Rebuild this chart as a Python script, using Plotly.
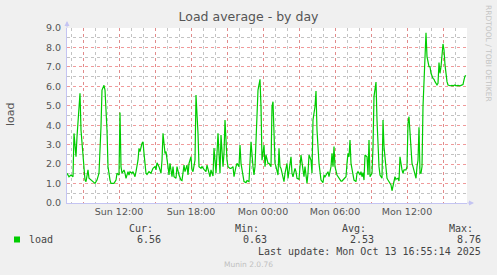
import pandas as pd
import plotly.graph_objects as go

# ---------------- data ----------------
window_start = "2025-10-12 07:40"
window_end = "2025-10-13 17:00"

minutes_since_start = [
    0, 10, 20, 30, 35, 45, 50, 60, 65, 70, 80, 90, 95, 100, 105, 110, 120, 130, 140, 150,
    160, 170, 175, 185, 190, 200, 205, 215, 220, 235, 245, 250, 260, 265, 270, 275, 285, 290, 295, 305,
    310, 315, 325, 330, 340, 345, 355, 360, 365, 375, 380, 385, 395, 400, 410, 420, 425, 430, 440, 445,
    450, 460, 470, 475, 480, 490, 495, 500, 505, 510, 515, 525, 530, 535, 545, 550, 555, 560, 570, 575,
    585, 590, 600, 605, 610, 620, 625, 630, 640, 645, 655, 660, 670, 675, 685, 695, 700, 710, 715, 720,
    730, 735, 740, 745, 755, 760, 765, 770, 775, 780, 785, 790, 800, 805, 815, 820, 830, 835, 845, 850,
    860, 865, 870, 880, 885, 895, 900, 910, 915, 920, 930, 935, 940, 950, 955, 965, 970, 975, 985, 990,
    995, 1005, 1010, 1020, 1025, 1030, 1035, 1040, 1045, 1055, 1060, 1065, 1070, 1080, 1085, 1090, 1100, 1105, 1110, 1120,
    1125, 1130, 1140, 1145, 1150, 1160, 1165, 1170, 1180, 1185, 1190, 1200, 1205, 1210, 1220, 1225, 1230, 1240, 1245, 1250,
    1260, 1265, 1270, 1280, 1285, 1290, 1300, 1305, 1310, 1320, 1325, 1330, 1335, 1340, 1350, 1355, 1360, 1370, 1375, 1385,
    1395, 1400, 1405, 1410, 1415, 1420, 1430, 1435, 1445, 1450, 1455, 1465, 1470, 1475, 1480, 1485, 1490, 1500, 1505, 1510,
    1515, 1525, 1530, 1535, 1545, 1550, 1560, 1565, 1575, 1580, 1585, 1595, 1600, 1605, 1615, 1620, 1625, 1635, 1640, 1645,
    1655, 1660, 1665, 1675, 1680, 1685, 1695, 1700, 1705, 1710, 1715, 1725, 1730, 1735, 1745, 1750, 1755, 1760, 1765, 1770,
    1775, 1780, 1790, 1795, 1800, 1810, 1815, 1820, 1830, 1835, 1840, 1850, 1855, 1860, 1865, 1870, 1880, 1885, 1890, 1895,
    1900, 1905, 1915, 1925, 1930, 1940, 1945, 1955, 1965, 1970, 1980, 1985, 1990, 1995,
]

load_values = [
    1.53, 1.35, 1.44, 1.35, 3.58, 2.38, 3.41, 4.60, 5.64, 3.75, 2.20, 1.18, 1.10, 1.53, 1.70, 1.27, 1.18, 1.05, 1.01, 1.18,
    1.53, 3.93, 5.81, 6.05, 5.81, 3.75, 1.87, 1.18, 1.01, 1.01, 1.18, 1.53, 1.44, 4.65, 1.87, 1.53, 1.70, 1.53, 1.27, 1.61,
    1.44, 1.61, 1.53, 1.61, 1.35, 1.61, 2.20, 2.81, 2.64, 3.07, 3.15, 2.55, 1.53, 1.47, 1.61, 1.53, 1.73, 1.78, 1.87, 1.70,
    2.07, 1.87, 1.53, 2.20, 3.58, 2.55, 2.64, 2.04, 1.87, 1.44, 2.04, 1.35, 1.87, 1.35, 1.27, 1.87, 1.53, 1.44, 1.18, 1.15,
    1.95, 1.61, 1.95, 1.44, 2.04, 2.38, 1.70, 1.61, 2.20, 5.55, 3.58, 1.87, 1.78, 1.87, 1.73, 1.61, 1.95, 1.53, 1.35, 1.70,
    1.39, 2.83, 2.20, 1.53, 3.58, 2.55, 1.53, 3.50, 2.90, 1.87, 2.55, 4.27, 2.20, 1.87, 1.78, 1.78, 1.87, 1.35, 1.87, 2.04,
    1.87, 2.98, 2.04, 1.53, 1.10, 1.05, 1.15, 1.10, 2.38, 3.15, 1.87, 1.44, 1.87, 4.27, 5.81, 6.36, 4.96, 2.20, 2.98, 1.87,
    2.47, 2.04, 2.04, 1.87, 4.96, 5.21, 3.75, 2.04, 1.87, 1.44, 2.81, 1.87, 1.78, 1.18, 1.10, 1.53, 2.04, 1.27, 1.61, 2.38,
    1.53, 1.35, 1.78, 1.61, 1.27, 1.22, 1.87, 2.47, 1.70, 1.35, 1.87, 1.01, 1.53, 2.47, 2.20, 1.53, 4.27, 4.96, 5.76, 3.75,
    2.04, 1.53, 1.18, 1.05, 1.44, 1.35, 1.53, 1.61, 1.35, 1.87, 2.55, 1.87, 2.90, 1.87, 1.44, 1.35, 1.27, 1.13, 1.13, 1.22,
    1.35, 2.04, 2.55, 2.38, 3.24, 2.04, 1.35, 1.18, 1.10, 1.53, 1.61, 1.44, 1.61, 1.35, 1.56, 1.18, 2.47, 2.38, 1.44, 3.24,
    1.35, 1.53, 2.90, 5.47, 6.22, 4.27, 1.87, 1.44, 1.27, 4.27, 2.90, 1.53, 1.27, 1.18, 1.01, 0.93, 0.63, 1.10, 1.35, 1.22,
    1.27, 1.13, 2.38, 1.70, 1.53, 1.70, 1.70, 1.87, 4.10, 4.44, 3.75, 2.04, 1.87, 1.70, 1.27, 1.87, 2.20, 3.90, 1.53, 1.53,
    1.87, 4.96, 7.70, 8.76, 7.53, 7.01, 7.01, 6.67, 6.41, 6.36, 6.24, 6.07, 6.15, 7.22, 6.67, 7.01, 8.18, 7.87, 7.10, 6.50,
    6.24, 6.07, 6.03, 6.05, 6.03, 6.07, 6.03, 6.05, 6.02, 6.05, 6.09, 6.33, 6.53, 6.56,
]

tick_times = [
    "2025-10-12 09:00", "2025-10-12 12:00", "2025-10-12 15:00", "2025-10-12 18:00",
    "2025-10-12 21:00", "2025-10-13 00:00", "2025-10-13 03:00", "2025-10-13 06:00",
    "2025-10-13 09:00", "2025-10-13 12:00", "2025-10-13 15:00",
]
tick_labels = ["", "Sun 12:00", "", "Sun 18:00", "", "Mon 00:00", "", "Mon 06:00", "", "Mon 12:00", ""]

series_name = "load"
stat_names = ["Cur:", "Min:", "Avg:", "Max:"]
stat_values = ["6.56", "0.63", "2.53", "8.76"]
last_update = "Last update: Mon Oct 13 16:55:14 2025"
version_text = "Munin 2.0.76"
side_text = "RRDTOOL / TOBI OETIKER"

# ---------------- figure ----------------
W, H = 497, 275
L, R, T, B = 67, 467, 28, 203  # plot area in pixels


def px(x):
    return (x - L) / (R - L)


def py(y):
    return (B - y) / (B - T)


times = pd.Timestamp(window_start) + pd.to_timedelta(minutes_since_start, unit="min")

fig = go.Figure()
fig.add_trace(go.Scatter(
    x=times, y=load_values, mode="lines",
    line=dict(color="#00cc00", width=1.2),
    showlegend=False, hoverinfo="skip",
))

grid_major = "rgba(235,120,120,0.75)"
grid_minor = "rgba(175,175,175,0.75)"
axis_col = "#c4c4f2"
txt_col = "#555555"

fig.update_layout(
    width=W, height=H,
    margin=dict(l=L, r=W - R, t=T, b=H - B, pad=0),
    paper_bgcolor="#f0f0f0",
    plot_bgcolor="#ffffff",
    font=dict(family="DejaVu Sans", size=9.5, color=txt_col),
    title=dict(text="Load average - by day", x=0.5, xanchor="center",
               y=1 - 17 / H, yanchor="middle", yref="container",
               font=dict(family="DejaVu Sans", size=12.5, color=txt_col)),
    xaxis=dict(
        type="date", range=[window_start, window_end],
        tickmode="array", tickvals=tick_times, ticktext=tick_labels,
        showgrid=True, gridcolor=grid_major, griddash="dot", gridwidth=1,
        minor=dict(dtick=3600000, tick0="2025-10-12 00:00", showgrid=True,
                   gridcolor=grid_minor, griddash="dot", gridwidth=1),
        showline=True, linecolor=axis_col, linewidth=1,
        ticks="", zeroline=False, fixedrange=True,
        tickfont=dict(family="DejaVu Sans", size=9.5, color=txt_col),
    ),
    yaxis=dict(
        range=[0, 9], tick0=0, dtick=1, tickformat=".1f",
        showgrid=True, gridcolor=grid_major, griddash="dot", gridwidth=1,
        minor=dict(dtick=0.5, showgrid=True, gridcolor=grid_minor, griddash="dot", gridwidth=1),
        showline=True, linecolor=axis_col, linewidth=1,
        ticks="outside", ticklen=3, tickcolor="rgba(0,0,0,0)",
        zeroline=False, fixedrange=True,
        tickfont=dict(family="DejaVu Sans", size=9.5, color=txt_col),
        title=dict(text="load", standoff=0,
                   font=dict(family="DejaVu Sans", size=11, color=txt_col)),
    ),
)

ann = []
# y axis title placed manually
fig.update_yaxes(title_text="")
ann.append(dict(x=px(10), y=py(114), xref="paper", yref="paper", text="load", textangle=-90,
                showarrow=False, xanchor="center", yanchor="middle",
                font=dict(family="DejaVu Sans", size=11, color=txt_col)))
# side credit
ann.append(dict(x=px(489), y=py(53), xref="paper", yref="paper", text=side_text, textangle=90,
                showarrow=False, xanchor="center", yanchor="middle",
                font=dict(family="DejaVu Sans", size=7.5, color="#c4c4c4")))
# axis arrows
ann.append(dict(x=0, y=py(21), xref="paper", yref="paper", ax=0, ay=8, text="",
                showarrow=True, arrowhead=2, arrowsize=1, arrowwidth=1,
                arrowcolor=axis_col, standoff=0))
ann.append(dict(x=px(474), y=0, xref="paper", yref="paper", ax=-8, ay=0, text="",
                showarrow=True, arrowhead=2, arrowsize=1, arrowwidth=1,
                arrowcolor=axis_col, standoff=0))

mono = dict(family="DejaVu Sans Mono", size=10, color="#444444")
ann.append(dict(x=px(27), y=py(239.5), xref="paper", yref="paper", text=series_name,
                showarrow=False, xanchor="left", yanchor="middle", font=mono))
stat_left = [127, 233, 340, 447]
value_right = [163, 269, 376, 483]
for name, val, xl, xr in zip(stat_names, stat_values, stat_left, value_right):
    ann.append(dict(x=px(xl), y=py(228), xref="paper", yref="paper", text=name,
                    showarrow=False, xanchor="left", yanchor="middle", font=mono))
    ann.append(dict(x=px(xr), y=py(239.5), xref="paper", yref="paper", text=val,
                    showarrow=False, xanchor="right", yanchor="middle", font=mono))
ann.append(dict(x=px(483), y=py(251), xref="paper", yref="paper", text=last_update,
                showarrow=False, xanchor="right", yanchor="middle", font=mono))
ann.append(dict(x=px(248), y=py(264.5), xref="paper", yref="paper", text=version_text,
                showarrow=False, xanchor="center", yanchor="middle",
                font=dict(family="DejaVu Sans", size=7.5, color="#c0c0c0")))
fig.update_layout(annotations=ann)

fig.add_shape(type="rect", xref="paper", yref="paper",
              x0=px(14), x1=px(20), y0=py(242.5), y1=py(236.5),
              fillcolor="#00cc00", line=dict(width=0))

fig.write_html("out.html", config={"displayModeBar": False})
